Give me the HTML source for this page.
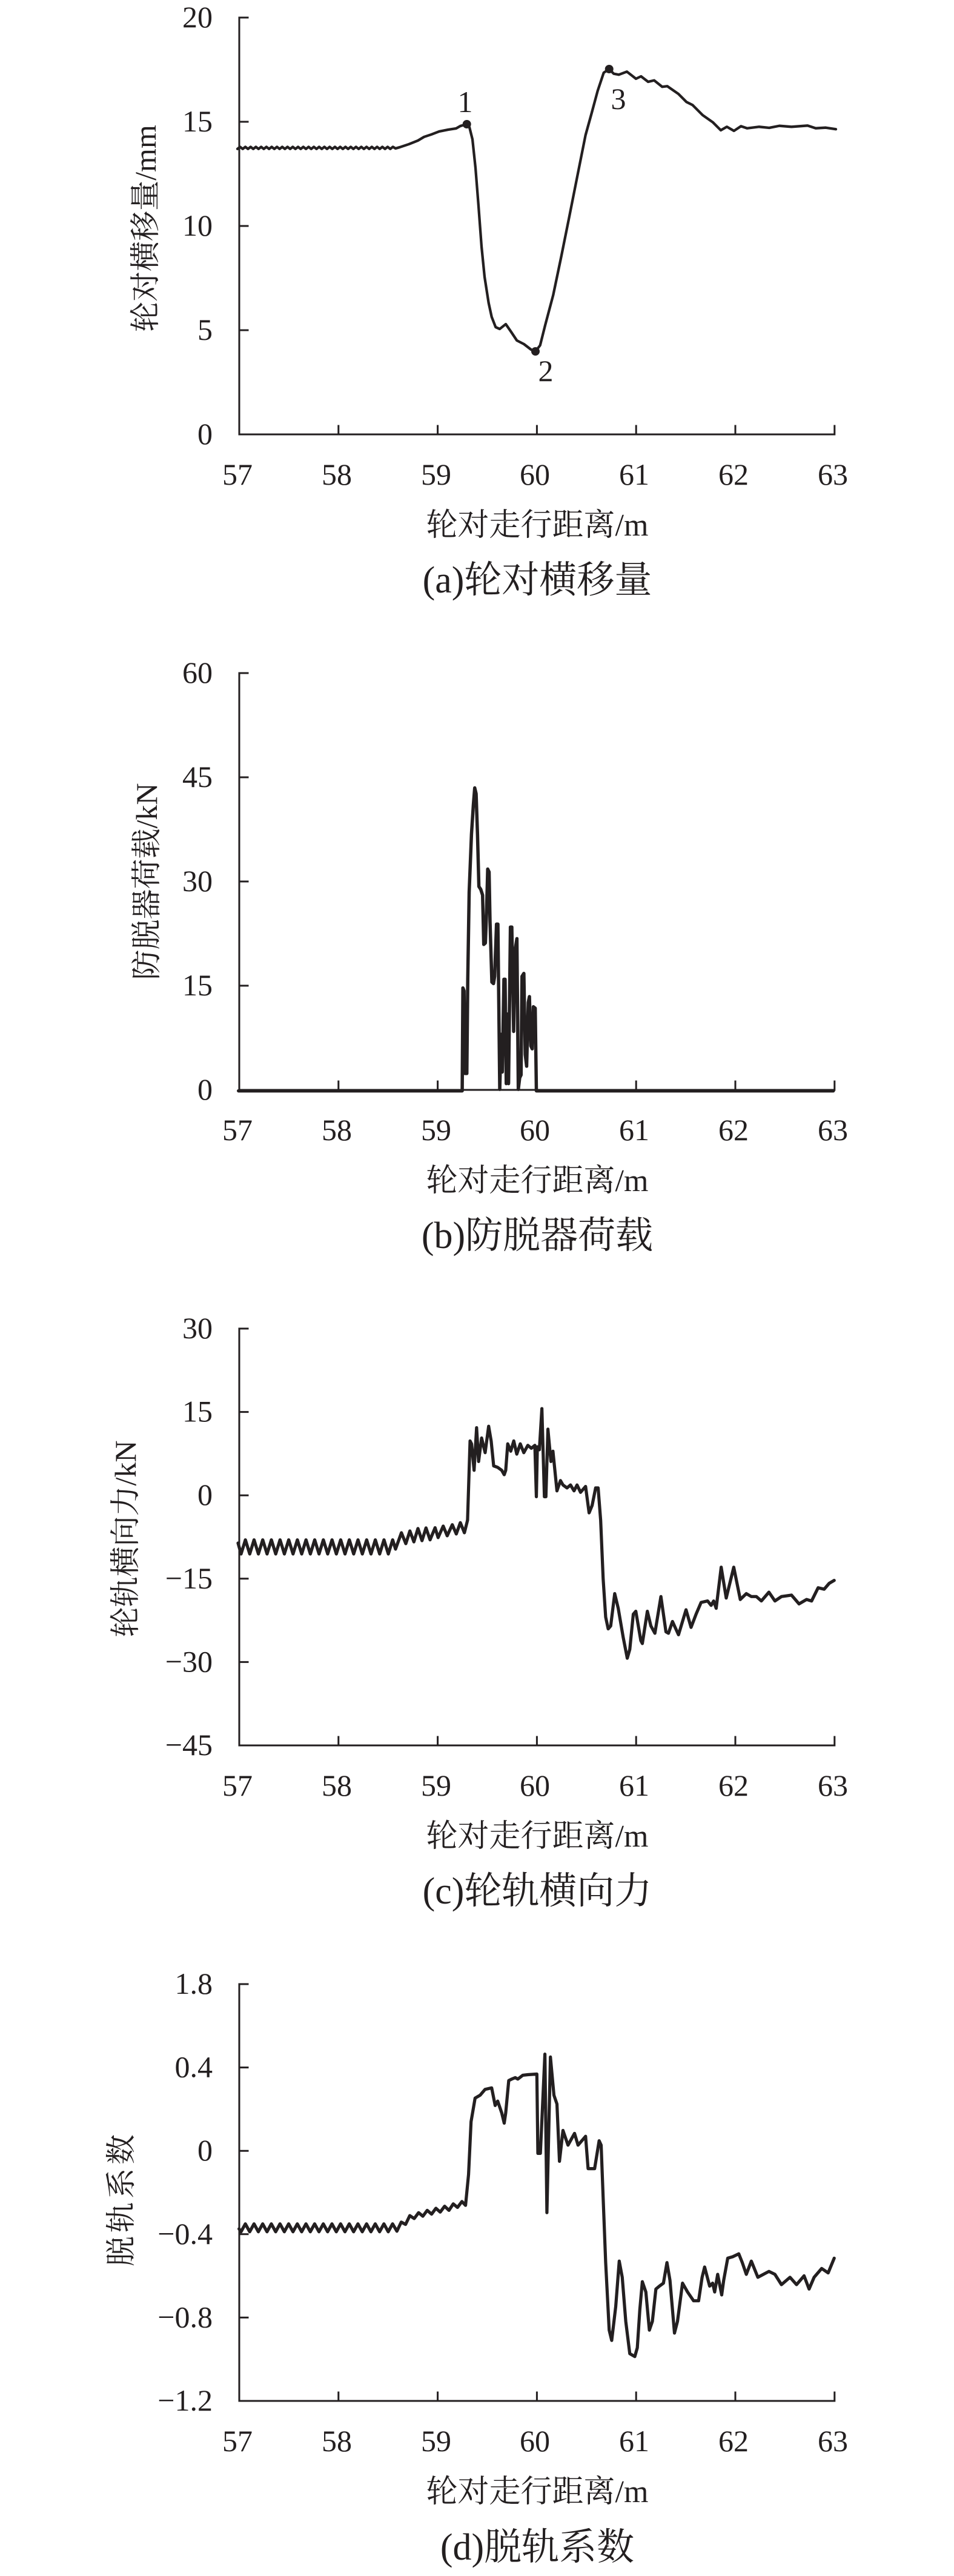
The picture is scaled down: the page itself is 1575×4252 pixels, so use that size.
<!DOCTYPE html>
<html>
<head>
<meta charset="utf-8">
<style>
html,body{margin:0;padding:0;background:#fff;}
svg{display:block;}
text{font-family:"Liberation Serif","Noto Serif CJK SC",serif;fill:#231f20;}
.tk{font-size:50px;}
.yl{font-size:50px;}
.ti{font-size:52px;}
.cap{font-size:62px;}
.ax{fill:none;stroke:#231f20;stroke-width:3;stroke-linecap:square;}
.ln{fill:none;stroke:#231f20;stroke-linejoin:round;stroke-linecap:round;}
</style>
</head>
<body>
<svg width="1575" height="4252" viewBox="0 0 1575 4252" xmlns="http://www.w3.org/2000/svg">
<rect x="0" y="0" width="1575" height="4252" fill="#fff"/>

<!-- ================= Panel (a) ================= -->
<path class="ax" d="M395 29 V717 H1377.8
M395 29 H409 M395 201 H409 M395 373 H409 M395 545 H409
M558.8 717 V703 M722.6 717 V703 M886.4 717 V703 M1050.2 717 V703 M1214 717 V703 M1377.8 717 V703"/>
<g class="tk" text-anchor="end">
<text x="351" y="45">20</text>
<text x="351" y="217">15</text>
<text x="351" y="389">10</text>
<text x="351" y="561">5</text>
<text x="351" y="733">0</text>
</g>
<g class="tk" text-anchor="middle">
<text x="392" y="800">57</text>
<text x="556" y="800">58</text>
<text x="720" y="800">59</text>
<text x="883" y="800">60</text>
<text x="1047" y="800">61</text>
<text x="1211" y="800">62</text>
<text x="1375" y="800">63</text>
</g>
<text class="yl" text-anchor="middle" transform="translate(257,377) rotate(-90)">轮对横移量/mm</text>
<text class="ti" x="887" y="884" text-anchor="middle">轮对走行距离/m</text>
<text class="cap" x="887" y="978" text-anchor="middle">(a)轮对横移量</text>

<polyline class="ln" stroke-width="4.3" points="
392,245.8 396.35,242.4 400.7,245.8 405.05,242.4 409.4,245.8 413.75,242.4 418.1,245.8 422.45,242.4 426.8,245.8 431.15,242.4
435.5,245.8 439.85,242.4 444.2,245.8 448.55,242.4 452.9,245.8 457.25,242.4 461.6,245.8 465.95,242.4 470.3,245.8 474.65,242.4
479,245.8 483.35,242.4 487.7,245.8 492.05,242.4 496.4,245.8 500.75,242.4 505.1,245.8 509.45,242.4 513.8,245.8 518.15,242.4
522.5,245.8 526.85,242.4 531.2,245.8 535.55,242.4 539.9,245.8 544.25,242.4 548.6,245.8 552.95,242.4 557.3,245.8 561.65,242.4
566,245.8 570.35,242.4 574.7,245.8 579.05,242.4 583.4,245.8 587.75,242.4 592.1,245.8 596.45,242.4 600.8,245.8 605.15,242.4
609.5,245.8 613.85,242.4 618.2,245.8 622.55,242.4 626.9,245.8 631.25,242.4 635.6,245.8 639.95,242.4 644.3,245.8 648.65,242.4 653,245
660,243 675,238 690,232 700,226 712,222 725,217 740,214 753,212 760,208 770.7,205
775,210 780,230 785,277 790,340 795,407 800,457 806.7,500 811.7,523 818.3,540 825,543 835,535 843.3,547 853.3,562 865,568 876.7,577 884,580
891.7,570 900,537 913.3,487 926.7,423 940,357 953.3,290 966.7,223 976.7,187 986.7,150 996.7,120 1005.7,114
1013.3,121.7 1021.7,123.3 1035,118.3 1050,130 1058.3,126 1070,135 1080,132.7 1093.3,143.3 1101.7,142.3 1120,155 1133.3,168.3 1143.3,173.3
1160,190 1176.7,201.7 1190,215 1200,209.3 1211.7,216 1223.3,208.3 1233.3,211.7 1253.3,209.3 1270,211 1286.7,207.7 1306.7,209.3 1333.3,207.3 1346.7,211.7 1363.3,210.7 1380,213.3"/>
<circle cx="770.7" cy="205" r="7" fill="#231f20"/>
<circle cx="884" cy="580" r="7" fill="#231f20"/>
<circle cx="1005.7" cy="114" r="7" fill="#231f20"/>
<g class="tk" text-anchor="middle">
<text x="768" y="185">1</text>
<text x="901" y="629">2</text>
<text x="1021" y="180">3</text>
</g>

<!-- ================= Panel (b) ================= -->
<path class="ax" d="M395 1111 V1799 H1377.8
M395 1111 H409 M395 1283 H409 M395 1455 H409 M395 1627 H409
M558.8 1799 V1785 M722.6 1799 V1785 M886.4 1799 V1785 M1050.2 1799 V1785 M1214 1799 V1785 M1377.8 1799 V1785"/>
<g class="tk" text-anchor="end">
<text x="351" y="1127">60</text>
<text x="351" y="1299">45</text>
<text x="351" y="1471">30</text>
<text x="351" y="1643">15</text>
<text x="351" y="1815">0</text>
</g>
<g class="tk" text-anchor="middle">
<text x="392" y="1882">57</text>
<text x="556" y="1882">58</text>
<text x="720" y="1882">59</text>
<text x="883" y="1882">60</text>
<text x="1047" y="1882">61</text>
<text x="1211" y="1882">62</text>
<text x="1375" y="1882">63</text>
</g>
<text class="yl" text-anchor="middle" transform="translate(259,1455) rotate(-90)">防脱器荷载/kN</text>
<text class="ti" x="887" y="1966" text-anchor="middle">轮对走行距离/m</text>
<text class="cap" x="887" y="2060" text-anchor="middle">(b)防脱器荷载</text>

<g transform="translate(300,1090) scale(0.3827,0.4785)">
<polyline class="ln" stroke-width="5.5" vector-effect="non-scaling-stroke" points="
245,1485 1210,1485 1213,1130 1218,1140 1222,1425 1230,1425 1234,1100 1240,800 1250,600 1258,500 1264,440 1270,460 1276,600 1282,780 1290,790 1298,810
1303,980 1310,975 1315,870 1320,720 1326,730 1330,900 1338,1110 1345,1115 1350,1090 1358,910 1364,910 1372,1480 1378,1290 1383,1420 1390,1100 1395,1100
1400,1460 1404,1220 1410,1460 1418,920 1424,920 1432,1280 1438,1000 1446,960 1452,1480 1458,1440 1464,1430 1468,1090 1476,1080 1482,1360 1488,1400
1495,1180 1500,1160 1506,1330 1512,1340 1517,1195 1525,1200 1530,1485 2811,1485"/>
</g>

<!-- ================= Panel (c) ================= -->
<path class="ax" d="M395 2193 V2881 H1377.8
M395 2193 H409 M395 2330.6 H409 M395 2468.2 H409 M395 2605.8 H409 M395 2743.4 H409
M558.8 2881 V2867 M722.6 2881 V2867 M886.4 2881 V2867 M1050.2 2881 V2867 M1214 2881 V2867 M1377.8 2881 V2867"/>
<g class="tk" text-anchor="end">
<text x="351" y="2209">30</text>
<text x="351" y="2346.6">15</text>
<text x="351" y="2484.2">0</text>
<text x="351" y="2621.8">−15</text>
<text x="351" y="2759.4">−30</text>
<text x="351" y="2897">−45</text>
</g>
<g class="tk" text-anchor="middle">
<text x="392" y="2964">57</text>
<text x="556" y="2964">58</text>
<text x="720" y="2964">59</text>
<text x="883" y="2964">60</text>
<text x="1047" y="2964">61</text>
<text x="1211" y="2964">62</text>
<text x="1375" y="2964">63</text>
</g>
<text class="yl" text-anchor="middle" transform="translate(224,2540) rotate(-90)">轮轨横向力/kN</text>
<text class="ti" x="887" y="3048" text-anchor="middle">轮对走行距离/m</text>
<text class="cap" x="887" y="3142" text-anchor="middle">(c)轮轨横向力</text>

<polyline class="ln" stroke-width="5.2" points="
393,2547 398,2565 405.15,2541.7 412.3,2565 419.45,2541.7 426.6,2565 433.75,2541.7 440.9,2565 448.05,2541.7 455.2,2565 462.35,2541.7
469.5,2565 476.65,2541.7 483.8,2565 490.95,2541.7 498.1,2565 505.25,2541.7 512.4,2565 519.55,2541.7 526.7,2565 533.85,2541.7
541,2565 548.15,2541.7 555.3,2565 562.45,2541.7 569.6,2565 576.75,2541.7 583.9,2565 591.05,2541.7 598.2,2565 605.35,2541.7
612.5,2565 619.65,2541.7 626.8,2565 633.95,2541.7 641.1,2565 648.25,2541.7
653,2557 662.7,2530 670,2548 676.7,2527 683.3,2545 690,2523 696.7,2543 703.3,2522 710,2541.7 718.3,2521.7 723.3,2538 731.7,2519
738.3,2535 746.7,2516.7 753.3,2532 760,2513.3 766.7,2530 771.9,2509.3"/>
<g transform="translate(150,2170) scale(0.8292,0.4847)">
<polyline class="ln" stroke-width="5.2" vector-effect="non-scaling-stroke" points="
750,700 755,430 758,440 763,530 768,385 772,500 778,420 785,470 792,380 797,430 802,515 810,520 818,530 823,545 826,530 830,440
836,465 842,430 848,475 855,440 862,470 870,445 877,455 884,445 887,620 889,450 893,460 898,320 903,620 906,620 910,390 916,500
920,465 928,600 935,565 940,580 948,590 955,580 962,600 968,580 975,605 985,585 992,675 998,650 1005,590 1010,590 1015,700
1020,900 1025,1030 1030,1070 1035,1060 1043,950 1050,1000 1060,1100 1068,1170 1073,1140 1080,1020 1085,1010 1095,1110 1098,1120
1108,1010 1115,1060 1123,1085 1135,960 1145,1080 1150,1085 1158,1045 1162,1060 1170,1090 1185,1005 1195,1065 1205,1020 1215,980
1228,975 1235,990 1240,975 1245,1000 1255,860 1265,965 1280,860 1293,970 1305,950 1315,960 1325,960 1335,975 1350,945 1362,975
1375,960 1395,955 1410,985 1425,970 1435,975 1448,930 1460,935 1470,915 1480,905"/>
</g>

<!-- ================= Panel (d) ================= -->
<path class="ax" d="M395 3275 V3963 H1377.8
M395 3275 H409 M395 3412.6 H409 M395 3550.2 H409 M395 3687.8 H409 M395 3825.4 H409
M558.8 3963 V3949 M722.6 3963 V3949 M886.4 3963 V3949 M1050.2 3963 V3949 M1214 3963 V3949 M1377.8 3963 V3949"/>
<g class="tk" text-anchor="end">
<text x="351" y="3291">1.8</text>
<text x="351" y="3428.6">0.4</text>
<text x="351" y="3566.2">0</text>
<text x="351" y="3703.8">−0.4</text>
<text x="351" y="3841.4">−0.8</text>
<text x="351" y="3979">−1.2</text>
</g>
<g class="tk" text-anchor="middle">
<text x="392" y="4046">57</text>
<text x="556" y="4046">58</text>
<text x="720" y="4046">59</text>
<text x="883" y="4046">60</text>
<text x="1047" y="4046">61</text>
<text x="1211" y="4046">62</text>
<text x="1375" y="4046">63</text>
</g>
<text class="yl" text-anchor="middle" letter-spacing="6" transform="translate(217,3629) rotate(-90)">脱轨系数</text>
<text class="ti" x="887" y="4130" text-anchor="middle">轮对走行距离/m</text>
<text class="cap" x="887" y="4225" text-anchor="middle">(d)脱轨系数</text>

<g transform="translate(150,3250) scale(0.8292,0.4847)">
<polyline class="ln" stroke-width="5.2" vector-effect="non-scaling-stroke" points="
295,885 299,895 307.62,868 316.24,895 324.86,868 333.48,895 342.1,868 350.72,895 359.34,868 367.96,895 376.58,868
385.2,895 393.82,868 402.44,895 411.06,868 419.68,895 428.3,868 436.92,895 445.54,868 454.16,895 462.78,868
471.4,895 480.02,868 488.64,895 497.26,868 505.88,895 514.5,868 523.12,895 531.74,868 540.36,895 548.98,868
557.6,895 566.22,868 574.84,895 583.46,868 592.08,895 600.7,868 609.32,893
618,862 626.6,870 635,840 643.8,850 652.5,830 661,842 669.7,822 678.4,835 687,815 695.6,828 704.3,808 713,822 721.5,800 730,812 738.8,792 746,805
752,700 757,520 765,440 775,430 785,410 798,405 805,465 810,450 818,490 823,525 826,490 832,380 838,375 845,370 850,375 860,362
870,360 888,358 890,628 895,628 904,290 908,830 915,300 922,430 928,460 933,655 940,550 950,600 963,560 970,600 985,570 990,680
1003,680 1012,585 1016,600 1020,780 1025,1000 1032,1230 1037,1265 1045,1150 1052,995 1058,1050 1065,1200 1073,1310 1083,1320
1088,1290 1093,1160 1098,1065 1105,1100 1112,1230 1118,1200 1125,1090 1132,1080 1140,1070 1147,1000 1153,1060 1162,1240 1168,1200
1178,1070 1188,1100 1200,1130 1210,1130 1217,1050 1222,1015 1232,1080 1238,1070 1242,1100 1248,1040 1256,1110 1260,1060 1268,985
1278,980 1290,970 1297,1000 1305,1040 1315,995 1328,1050 1350,1030 1362,1040 1375,1075 1392,1050 1405,1075 1420,1045 1430,1090
1440,1050 1455,1020 1468,1035 1480,985"/>
</g>

</svg>
</body>
</html>
